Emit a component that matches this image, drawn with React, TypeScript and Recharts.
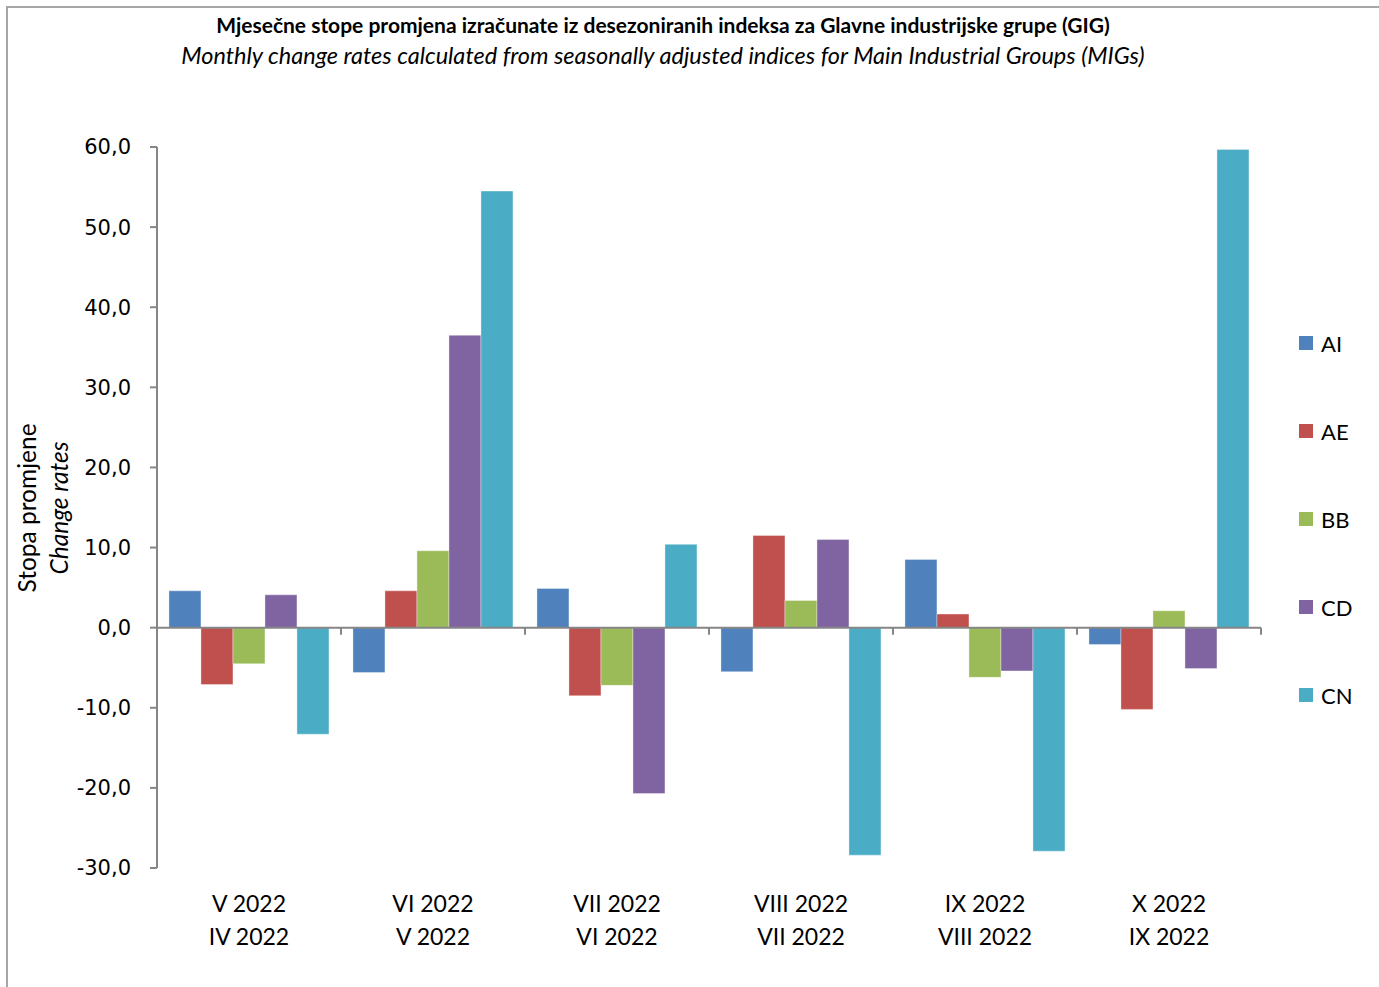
import { BarChart, Bar, XAxis, YAxis, ReferenceLine, Legend } from 'recharts';

const currentMonths = ['V 2022', 'VI 2022', 'VII 2022', 'VIII 2022', 'IX 2022', 'X 2022'];
const previousMonths = ['IV 2022', 'V 2022', 'VI 2022', 'VII 2022', 'VIII 2022', 'IX 2022'];

const ai = [4.6, -5.6, 4.9, -5.5, 8.5, -2.1];
const ae = [-7.1, 4.6, -8.5, 11.5, 1.7, -10.2];
const bb = [-4.5, 9.6, -7.2, 3.4, -6.2, 2.1];
const cd = [4.1, 36.5, -20.7, 11.0, -5.4, -5.1];
const cn = [-13.3, 54.5, 10.4, -28.4, -27.9, 59.7];

const yTicks = [-30, -20, -10, 0, 10, 20, 30, 40, 50, 60];

const series = [
    { key: 'AI', values: ai, color: '#4F81BD' },
    { key: 'AE', values: ae, color: '#C0504D' },
    { key: 'BB', values: bb, color: '#9BBB59' },
    { key: 'CD', values: cd, color: '#8064A2' },
    { key: 'CN', values: cn, color: '#4BACC6' },
];

const data = currentMonths.map((m, i) => {
    const row: Record<string, string | number> = { name: m, prev: previousMonths[i] };
    series.forEach((s) => {
        row[s.key] = s.values[i];
    });
    return row;
});

const axisColor = '#868686';
const labelFont = 'Lato, "Open Sans", sans-serif';

const MonthTick = (props: any) => {
    const { x, y, index } = props;
    return (
        <g>
            <text x={x} y={y + 44} textAnchor="middle" fontFamily={labelFont} fontSize={23} fill="#000">
                {currentMonths[index]}
            </text>
            <text x={x} y={y + 77} textAnchor="middle" fontFamily={labelFont} fontSize={23} fill="#000">
                {previousMonths[index]}
            </text>
        </g>
    );
};

// zero line with the category separator marks, like the excel axis
const ZeroLine = (props: any) => {
    const { x1, x2, y1 } = props;
    const n = currentMonths.length;
    const step = (x2 - x1) / n;
    const marks = [];
    for (let i = 0; i <= n; i++) {
        const x = x1 + i * step;
        marks.push(<line key={i} x1={x} x2={x} y1={y1} y2={y1 + 7} stroke={axisColor} strokeWidth={2} />);
    }
    return (
        <g>
            <line x1={x1} x2={x2} y1={y1} y2={y1} stroke={axisColor} strokeWidth={2} />
            {marks}
        </g>
    );
};

const LegendBox = () => (
    <div style={{ paddingLeft: 38 }}>
        {series.map((s) => (
            <div key={s.key} style={{ display: 'flex', alignItems: 'center', height: 88 }}>
                <span style={{ width: 14, height: 14, background: s.color, display: 'inline-block', marginRight: 8 }} />
                <span style={{ fontFamily: labelFont, fontSize: 22, color: '#000' }}>{s.key}</span>
            </div>
        ))}
    </div>
);

export default function App() {
    return (
        <div style={{ position: 'absolute', top: 0, left: 0, width: 1379, height: 987, overflow: 'hidden', background: '#fff' }}>
            <div style={{ position: 'absolute', left: 6, top: 6, width: 1400, height: 1000, border: '2px solid #a6a6a6' }} />
            <div style={{ position: 'absolute', top: 10, left: 663, transform: 'translateX(-50%)', whiteSpace: 'nowrap', textAlign: 'center', fontFamily: labelFont }}>
                <div style={{ fontWeight: 'bold', fontSize: 21, lineHeight: '30px' }}>
                    Mjesečne stope promjena izračunate iz desezoniranih indeksa za Glavne industrijske grupe (GIG)
                </div>
                <div style={{ fontStyle: 'italic', fontSize: 23.5, lineHeight: '30px' }}>
                    Monthly change rates calculated from seasonally adjusted indices for Main Industrial Groups (MIGs)
                </div>
            </div>
            <div
                style={{
                    position: 'absolute',
                    left: 43,
                    top: 508,
                    transform: 'translate(-50%, -50%) rotate(-90deg)',
                    whiteSpace: 'nowrap',
                    textAlign: 'center',
                    fontFamily: labelFont,
                    fontSize: 24.5,
                    lineHeight: '32px',
                }}
            >
                <div>Stopa promjene</div>
                <div style={{ fontStyle: 'italic' }}>Change rates</div>
            </div>
            <div style={{ position: 'absolute', top: 0, left: 0 }}>
                <BarChart
                    width={1379}
                    height={987}
                    data={data}
                    margin={{ top: 147, right: 0, left: 0, bottom: 0 }}
                    barCategoryGap="6.5%"
                    barGap={0}
                >
                    <XAxis dataKey="name" height={119} axisLine={false} tickLine={false} tickSize={0} tickMargin={0} interval={0} tick={<MonthTick />} />
                    <YAxis
                        width={157}
                        domain={[-30, 60]}
                        ticks={yTicks}
                        interval={0}
                        allowDataOverflow
                        tickSize={7}
                        tickMargin={19}
                        axisLine={{ stroke: axisColor, strokeWidth: 2 }}
                        tickLine={{ stroke: axisColor, strokeWidth: 2 }}
                        tick={{ fill: '#000', fontSize: 21, fontFamily: 'DejaVu Sans, sans-serif' }}
                        tickFormatter={(v: number) => v.toFixed(1).replace('.', ',')}
                    />
                    {series.map((s) => (
                        <Bar
                            key={s.key}
                            dataKey={s.key}
                            fill={s.color}
                            stroke="#ffffff"
                            strokeOpacity={0.35}
                            strokeWidth={1}
                            isAnimationActive={false}
                        />
                    ))}
                    <ReferenceLine y={0} shape={<ZeroLine />} />
                    <Legend
                        layout="vertical"
                        align="right"
                        verticalAlign="middle"
                        content={<LegendBox />}
                        wrapperStyle={{ width: 118, top: 299, right: 0 }}
                    />
                </BarChart>
            </div>
        </div>
    );
}
